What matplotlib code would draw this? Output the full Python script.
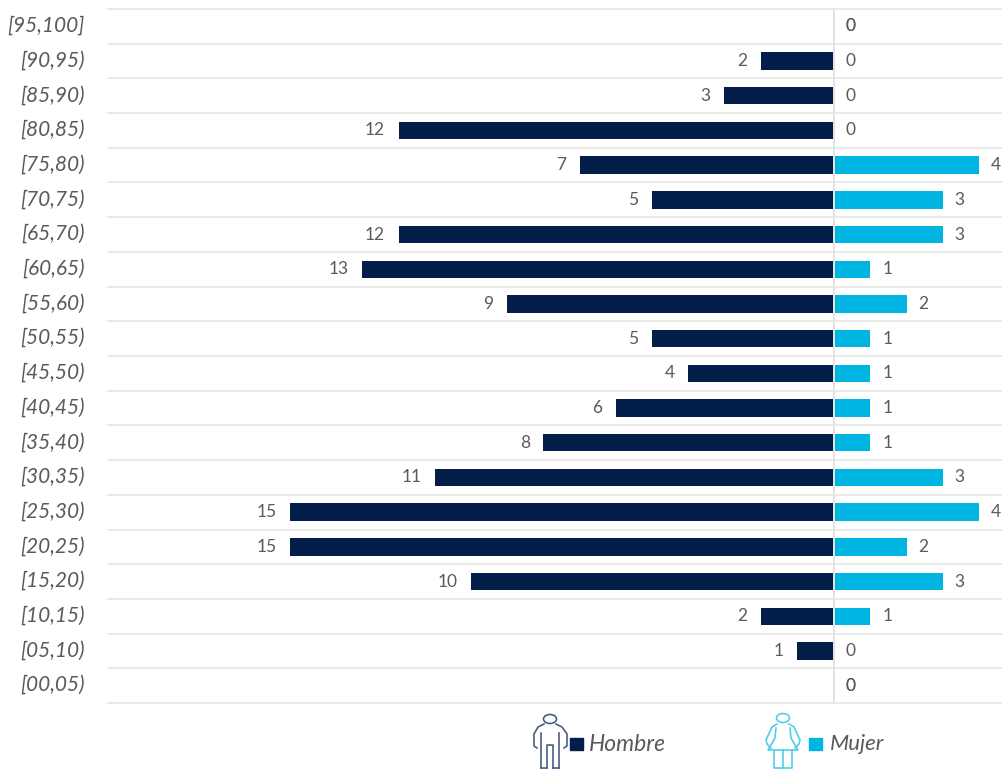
import matplotlib
matplotlib.use("Agg")
import matplotlib.pyplot as plt
from matplotlib.patches import Rectangle, Ellipse
from matplotlib.transforms import ScaledTranslation

categories = ["[95,100]", "[90,95)", "[85,90)", "[80,85)", "[75,80)", "[70,75)", "[65,70)",
              "[60,65)", "[55,60)", "[50,55)", "[45,50)", "[40,45)", "[35,40)", "[30,35)",
              "[25,30)", "[20,25)", "[15,20)", "[10,15)", "[05,10)", "[00,05)"]
hombre = [0, 2, 3, 12, 7, 5, 12, 13, 9, 5, 4, 6, 8, 11, 15, 15, 10, 2, 1, 0]
mujer = [0, 0, 0, 0, 4, 3, 3, 1, 2, 1, 1, 1, 1, 3, 4, 2, 3, 1, 0, 0]

NAVY = "#041E4A"
CYAN = "#00B5E2"
TEXT = "#5A5A5A"
GRID = "#E3E3E3"
W, H = 1003, 769
PX = 72 / 100
SCALE = 36.2

plt.rcParams["font.family"] = ["Lato", "DejaVu Sans"]
fig = plt.figure(figsize=(W / 100, H / 100), dpi=100)
ax = fig.add_axes([108 / W, 1 - 703 / H, (W - 108) / W, (703 - 9) / H])
ax.set_xlim(-726 / SCALE, 169 / SCALE)
ax.set_ylim(len(categories) - 0.5, -0.5)
for s in ax.spines.values():
    s.set_visible(False)
ax.set_xticks([])
y = list(range(len(categories)))
ax.set_yticks(y)
ax.set_yticklabels(categories, fontsize=15, style="italic", color=TEXT)
ax.tick_params(axis="y", length=0, pad=17)
up = ScaledTranslation(0, 2.5 / 100, fig.dpi_scale_trans)
for lab in ax.get_yticklabels():
    lab.set_transform(lab.get_transform() + up)
for i in range(len(categories) + 1):
    ax.axhline(i - 0.5, color=GRID, lw=1.5 * PX, zorder=1, clip_on=False)
ax.axvline(0, color=GRID, lw=2 * PX, zorder=3)

ax.barh(y, [-v for v in hombre], height=0.5, color=NAVY, zorder=2, left=-1 / SCALE)
ax.barh(y, mujer, height=0.5, color=CYAN, zorder=2, left=0.3 / SCALE)

for i, (h, m) in enumerate(zip(hombre, mujer)):
    if h:
        ax.annotate(str(h), (-h, i), xytext=(-14.5 * PX, 0), textcoords="offset points",
                    ha="right", va="center", fontsize=12.5, color=TEXT)
    else:
        ax.annotate(str(h), (0, i), xytext=(12 * PX, 0), textcoords="offset points",
                    ha="left", va="center", fontsize=12.5, color=TEXT)
    ax.annotate(str(m), (m, i), xytext=(12 * PX, 0), textcoords="offset points",
                ha="left", va="center", fontsize=12.5, color=TEXT)

# Legend and figure icons, in pixel coordinates
ov = fig.add_axes([0, 0, 1, 1], facecolor="none")
ov.set_xlim(0, W)
ov.set_ylim(H, 0)
ov.axis("off")
ov.add_patch(Rectangle((570, 738), 13, 12, color=NAVY))
ov.add_patch(Rectangle((809, 738), 13, 12, color=CYAN))
ov.text(589, 744.5, "Hombre", fontsize=16.5, style="italic", color=TEXT, va="center")
ov.text(830, 744, "Mujer", fontsize=16, style="italic", color=TEXT, va="center")

lw = 1.6 * PX
man = "#44597E"
ov.add_patch(Ellipse((550, 719), 13, 9, fill=False, ec=man, lw=lw))
ov.plot([544, 538, 534, 534, 537], [724, 727, 734, 746, 748], color=man, lw=lw)
ov.plot([556, 562, 567, 567, 564], [724, 727, 734, 746, 748], color=man, lw=lw)
ov.plot([541, 541], [768, 733], color=man, lw=lw)
ov.plot([559, 559], [768, 733], color=man, lw=lw)
ov.plot([547, 547, 553, 553], [768, 745, 745, 768], color=man, lw=lw)
ov.plot([541, 547], [768, 768], color=man, lw=lw)
ov.plot([553, 559], [768, 768], color=man, lw=lw)

wom = "#4CCBEB"
ov.add_patch(Ellipse((783, 718), 13, 9, fill=False, ec=wom, lw=lw))
ov.plot([777, 772, 766, 767, 771], [724, 727, 740, 744, 748], color=wom, lw=lw)
ov.plot([789, 794, 800, 799, 795], [724, 727, 740, 744, 748], color=wom, lw=lw)
ov.plot([776, 775, 768, 798, 791, 790], [728, 738, 750, 750, 738, 728], color=wom, lw=lw)
ov.plot([774, 774, 792, 792], [750, 768, 768, 750], color=wom, lw=lw)
ov.plot([783, 783], [750, 768], color=wom, lw=lw)

fig.savefig("out.png", dpi=100)
